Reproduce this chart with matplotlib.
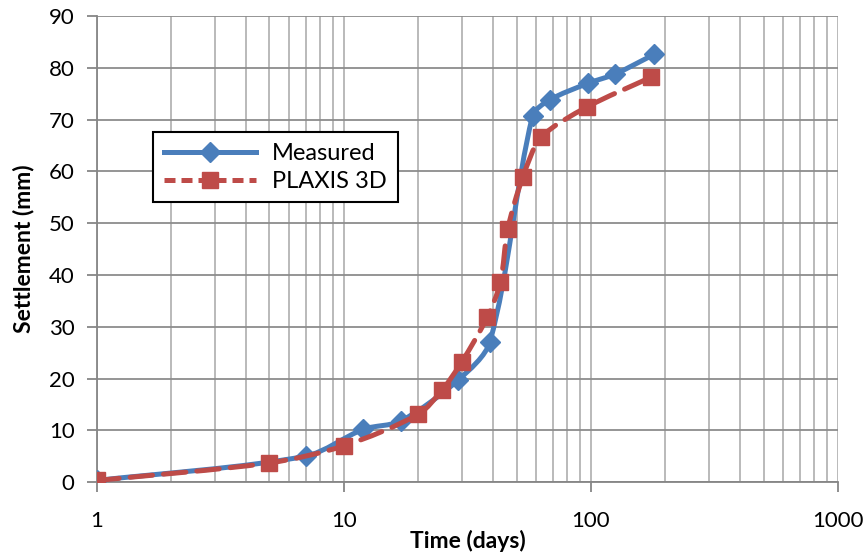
import numpy as np
import matplotlib
matplotlib.use('Agg')
import matplotlib.pyplot as plt
from matplotlib.path import Path
from matplotlib.patches import PathPatch
from matplotlib.lines import Line2D
from matplotlib.ticker import LogLocator, FixedLocator, NullFormatter

plt.rcParams['font.family'] = ['Lato', 'DejaVu Sans']

meas_t = [1, 7, 12, 17, 29, 39, 58, 68, 97, 125, 180]
meas_s = [0.3, 5.0, 10.2, 11.8, 19.7, 27.1, 70.7, 73.8, 77.0, 78.8, 82.6]

plaxis_t = [1, 5, 10, 20, 25, 30, 38, 43, 46, 53, 63, 96, 175]
plaxis_s = [0.3, 3.7, 7.0, 13.1, 17.8, 23.2, 31.8, 38.6, 48.8, 58.9, 66.6, 72.4, 78.2]

blue = '#4a7ebb'
red = '#be4b48'


def smooth_path(t, s, k=0.3):
    # excel-like smoothed line, bezier control points worked out in screen-ish units
    px = np.log10(t) * 247.0
    py = np.array(s, dtype=float) * 5.18
    pts = np.column_stack([px, py])
    n = len(pts)
    tang = []
    for i in range(n):
        d = pts[min(i + 1, n - 1)] - pts[max(i - 1, 0)]
        tang.append(d / np.hypot(*d))
    verts = [(t[0], s[0])]
    codes = [Path.MOVETO]
    for i in range(n - 1):
        seg = np.hypot(*(pts[i + 1] - pts[i]))
        c1 = pts[i] + tang[i] * seg * k
        c2 = pts[i + 1] - tang[i + 1] * seg * k
        for c in (c1, c2):
            verts.append((10 ** (c[0] / 247.0), c[1] / 5.18))
        verts.append((t[i + 1], s[i + 1]))
        codes += [Path.CURVE4] * 3
    return Path(verts, codes)


fig = plt.figure(figsize=(8.64, 5.56), dpi=100)
ax = fig.add_axes([0.112, 0.133, 0.858, 0.838])
ax.set_xscale('log')
ax.set_xlim(1, 1000)
ax.set_ylim(0, 90)

ax.add_patch(PathPatch(smooth_path(meas_t, meas_s), fill=False, edgecolor=blue,
                       lw=3.6, capstyle='round', joinstyle='round', zorder=3))
ax.add_patch(PathPatch(smooth_path(plaxis_t, plaxis_s), fill=False, edgecolor=red,
                       lw=3.6, linestyle=(0, (4.5, 2.2)), capstyle='round', zorder=4))
ax.plot(meas_t, meas_s, linestyle='none', marker='D', ms=10, color=blue, zorder=3)
ax.plot(plaxis_t, plaxis_s, linestyle='none', marker='s', ms=11, color=red, zorder=4)

ax.xaxis.set_major_locator(FixedLocator([1, 10, 100, 1000]))
ax.xaxis.set_major_formatter(plt.FuncFormatter(lambda v, p: '%d' % v))
ax.xaxis.set_minor_locator(LogLocator(base=10, subs=np.arange(2, 10)))
ax.xaxis.set_minor_formatter(NullFormatter())
ax.set_yticks(range(0, 91, 10))

ax.grid(True, which='major', axis='y', color='#8c8c8c', lw=1.3)
ax.grid(True, which='both', axis='x', color='#b4b4b4', lw=1.3)
ax.set_axisbelow(True)

for side in ['top', 'right']:
    ax.spines[side].set_visible(False)
for side in ['left', 'bottom']:
    ax.spines[side].set_color('#868686')
    ax.spines[side].set_linewidth(1.3)

ax.tick_params(axis='both', which='major', direction='out', color='#868686',
               labelsize=16, width=1.3, length=7)
ax.tick_params(axis='y', which='major', pad=9)
ax.tick_params(axis='x', which='major', pad=14)
ax.tick_params(axis='x', which='minor', length=0)

ax.set_xlabel('Time (days)', fontsize=16.5, fontweight='bold', labelpad=-1)
ax.set_ylabel('Settlement (mm)', fontsize=16.5, fontweight='bold', labelpad=10)

handles = [Line2D([], [], color=blue, lw=3.6, marker='D', ms=10),
           Line2D([], [], color=red, lw=3.6, linestyle=(0, (2.2, 1.2)), marker='s', ms=11)]
leg = ax.legend(handles, ['Measured', 'PLAXIS 3D'], loc='upper left',
                bbox_to_anchor=(0.076, 0.751), borderaxespad=0, fontsize=17,
                fancybox=False, framealpha=1, edgecolor='black', handlelength=3.9,
                borderpad=0.45, labelspacing=0.3, handletextpad=0.7)
leg.get_frame().set_linewidth(1.5)

fig.savefig('out.png', dpi=100)
